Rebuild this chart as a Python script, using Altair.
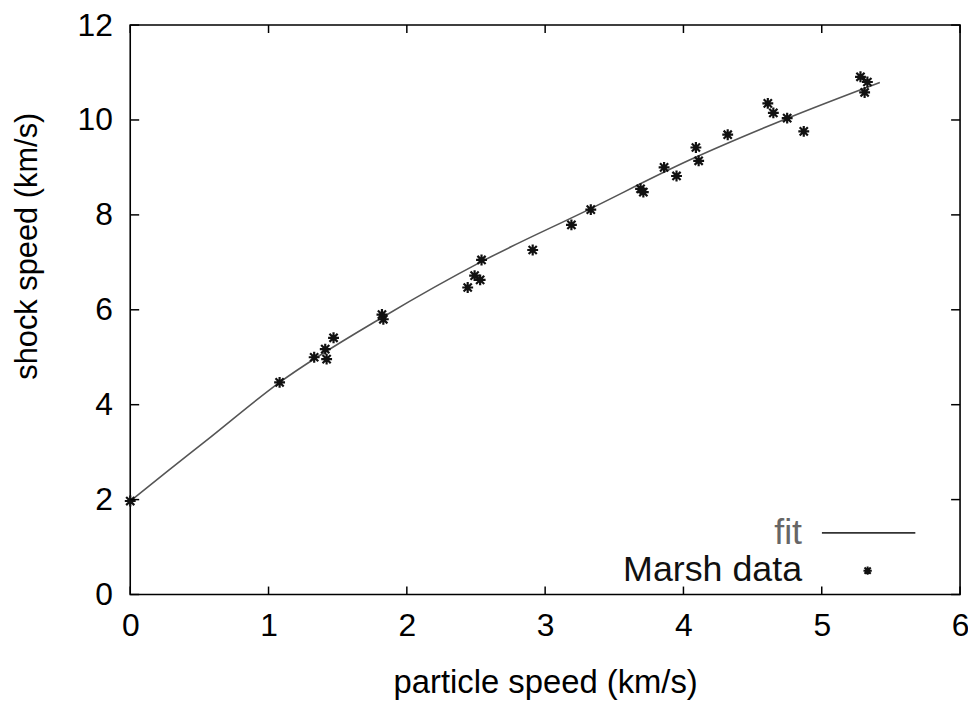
import altair as alt
import pandas as pd

# Marsh data (particle speed, shock speed)
marsh_u = [0.0, 1.08, 1.33, 1.41, 1.42, 1.47, 1.82, 1.83, 2.44, 2.49, 2.53, 2.54,
           2.91, 3.19, 3.33, 3.69, 3.71, 3.86, 3.95, 4.09, 4.11, 4.32, 4.61, 4.65,
           4.75, 4.87, 5.28, 5.33, 5.31]
marsh_us = [1.97, 4.47, 5.00, 5.17, 4.96, 5.41, 5.90, 5.80, 6.47, 6.72, 6.63, 7.05,
            7.26, 7.79, 8.11, 8.55, 8.48, 9.00, 8.82, 9.42, 9.14, 9.69, 10.35, 10.15,
            10.04, 9.76, 10.91, 10.80, 10.58]

# fit curve points
fit_u = [0.0, 0.27, 0.54, 1.08, 1.84, 2.55, 3.30, 4.04, 4.73, 5.42]
fit_us = [1.97, 2.60, 3.22, 4.47, 5.87, 7.03, 8.09, 9.15, 10.01, 10.79]

x_ticks = [0, 1, 2, 3, 4, 5, 6]
y_ticks = [0, 2, 4, 6, 8, 10, 12]

W, H = 835, 573
FONT = "Liberation Sans"

marsh = pd.DataFrame({"u": marsh_u, "us": marsh_us})
fit = pd.DataFrame({"u": fit_u, "us": fit_us})
xt = pd.DataFrame({"t": x_ticks})
yt = pd.DataFrame({"t": y_ticks})

xscale = alt.Scale(domain=[0, 6], nice=False, zero=False)
yscale = alt.Scale(domain=[0, 12], nice=False, zero=False)

xaxis = alt.Axis(values=x_ticks, format="d", ticks=False, domain=False, grid=False,
                 labelFlush=False, labelOverlap=False,
                 labelFontSize=32, labelFont=FONT, labelColor="black",
                 labelPadding=16, title="particle speed (km/s)",
                 titleFont=FONT, titleFontSize=33, titleFontWeight="normal",
                 titleColor="black", titleY=99, titleBaseline="alphabetic")
yaxis = alt.Axis(values=y_ticks, format="d", ticks=False, domain=False, grid=False,
                 labelFlush=False, labelOverlap=False,
                 labelFontSize=32, labelFont=FONT, labelColor="black",
                 labelPadding=18, title="shock speed (km/s)",
                 titleFont=FONT, titleFontSize=31, titleFontWeight="normal",
                 titleColor="black", titleX=-103, titleY=222, titleAngle=270,
                 titleAlign="center", titleBaseline="middle")

ASTER = "M-1,0L1,0M0,-1L0,1M-0.75,-0.75L0.75,0.75M-0.75,0.75L0.75,-0.75"

fit_line = alt.Chart(fit).mark_line(color="#555555", strokeWidth=1.6,
                                    interpolate="monotone").encode(
    x=alt.X("u:Q", scale=xscale, axis=xaxis),
    y=alt.Y("us:Q", scale=yscale, axis=yaxis),
)

points = alt.Chart(marsh).mark_point(shape=ASTER, size=120, strokeWidth=2.2,
                                     filled=False, color="#111111", opacity=1).encode(
    x=alt.X("u:Q", scale=xscale),
    y=alt.Y("us:Q", scale=yscale),
)

xt_bot = alt.Chart(xt).mark_rule(color="black", strokeWidth=1.5).encode(
    x=alt.X("t:Q", scale=xscale), y=alt.value(H), y2=alt.value(H - 8))
xt_top = alt.Chart(xt).mark_rule(color="black", strokeWidth=1.5).encode(
    x=alt.X("t:Q", scale=xscale), y=alt.value(0), y2=alt.value(8))
yt_left = alt.Chart(yt).mark_rule(color="black", strokeWidth=1.5).encode(
    y=alt.Y("t:Q", scale=yscale), x=alt.value(0), x2=alt.value(9))
yt_right = alt.Chart(yt).mark_rule(color="black", strokeWidth=1.5).encode(
    y=alt.Y("t:Q", scale=yscale), x=alt.value(W), x2=alt.value(W - 9))

# legend (gnuplot style: label on the left, sample on the right)
leg = pd.DataFrame({"label": ["fit", "Marsh data"]})
leg_fit_text = alt.Chart(leg).transform_filter(alt.datum.label == "fit").mark_text(
    align="right", baseline="middle", font=FONT, fontSize=36, color="#666666").encode(
    text="label:N", x=alt.value(676), y=alt.value(511))
leg_marsh_text = alt.Chart(leg).transform_filter(alt.datum.label == "Marsh data").mark_text(
    align="right", baseline="middle", font=FONT, fontSize=36, color="#111111").encode(
    text="label:N", x=alt.value(676), y=alt.value(548))
leg_line = alt.Chart(leg).transform_filter(alt.datum.label == "fit").mark_rule(
    color="#333333", strokeWidth=1.8).encode(
    x=alt.value(696), x2=alt.value(790), y=alt.value(511))
leg_pt = alt.Chart(leg).transform_filter(alt.datum.label == "Marsh data").mark_point(
    shape=ASTER, size=70, strokeWidth=2, filled=False, color="#111111", opacity=1).encode(
    x=alt.value(742), y=alt.value(549))

chart = alt.layer(
    fit_line, points, xt_bot, xt_top, yt_left, yt_right,
    leg_fit_text, leg_marsh_text, leg_line, leg_pt
).properties(
    width=W, height=H,
    autosize=alt.AutoSizeParams(type="none"),
    padding={"left": 123, "top": 15, "right": 8, "bottom": 108},
    background="white",
).configure_view(stroke="black", strokeWidth=1.6)

chart.save("out.html", embed_options={"renderer": "svg", "actions": False})
